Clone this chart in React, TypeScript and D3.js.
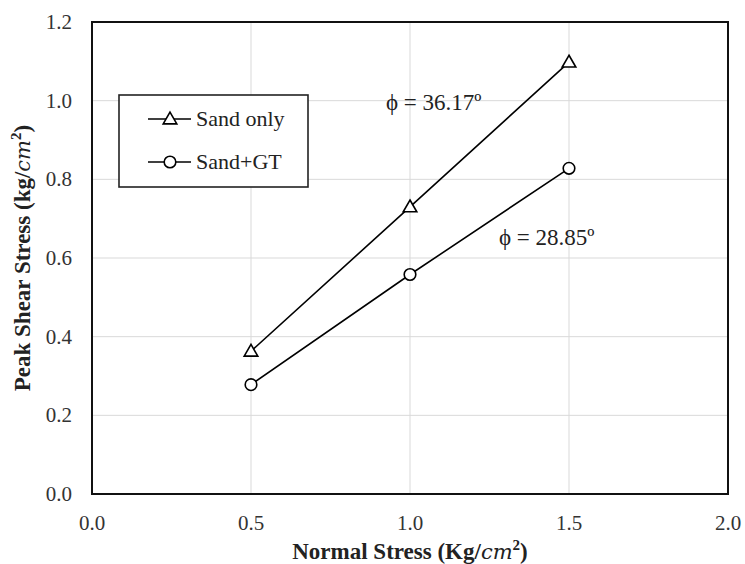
import React from 'react';
import * as d3 from 'd3';

// values
const normalStress = [0.5, 1.0, 1.5];
const sandOnly = [0.363, 0.73, 1.098];
const sandGT = [0.278, 0.558, 0.828];
const xTicks = [0, 0.5, 1.0, 1.5, 2.0];
const yTicks = [0, 0.2, 0.4, 0.6, 0.8, 1.0, 1.2];
const seriesNames = ['Sand only', 'Sand+GT'];
const phiLabels = ['\u03d5 = 36.17\u00ba', '\u03d5 = 28.85\u00ba'];

const W = 745;
const H = 564;
const margin = { left: 92, right: 17, top: 22, bottom: 70 };
const FONT = "'Liberation Serif', 'Times New Roman', serif";

export default function App() {
  const x = d3.scaleLinear().domain([0, 2]).range([margin.left, W - margin.right]);
  const y = d3.scaleLinear().domain([0, 1.2]).range([H - margin.bottom, margin.top]);

  const line = d3.line<[number, number]>()
    .x(d => x(d[0]))
    .y(d => y(d[1]));

  const sandPts = normalStress.map((v, i) => [v, sandOnly[i]] as [number, number]);
  const gtPts = normalStress.map((v, i) => [v, sandGT[i]] as [number, number]);

  const tri = d3.symbol().type(d3.symbolTriangle).size(80)();

  const triangle = (cx: number, cy: number, key: string) => (
    <path key={key} d={tri!} transform={`translate(${cx},${cy + 1})`} fill="#fff" stroke="#000" strokeWidth={1.6} />
  );
  const circle = (cx: number, cy: number, key: string) => (
    <circle key={key} cx={cx} cy={cy} r={5.8} fill="#fff" stroke="#000" strokeWidth={1.6} />
  );
  const txt = { fontFamily: FONT };
  const mathCm = { fontFamily: "'DejaVu Serif', serif", fontStyle: 'italic', fontWeight: 'normal' } as const;

  return (
    <svg width={W} height={H} style={{ position: 'absolute', left: 0, top: 0, background: '#fff', fontFamily: FONT }}>
      {/* grid */}
      {xTicks.slice(1, -1).map(t => (
        <line key={'gx' + t} x1={x(t)} x2={x(t)} y1={y(0)} y2={y(1.2)} stroke="#d9d9d9" strokeWidth={1} />
      ))}
      {yTicks.slice(1, -1).map(t => (
        <line key={'gy' + t} x1={x(0)} x2={x(2)} y1={y(t)} y2={y(t)} stroke="#d9d9d9" strokeWidth={1} />
      ))}
      <rect x={x(0)} y={y(1.2)} width={x(2) - x(0)} height={y(0) - y(1.2)} fill="none" stroke="#111" strokeWidth={2} />

      {/* tick labels */}
      {yTicks.map(t => (
        <text key={'ty' + t} x={x(0) - 20} y={y(t) + 7} textAnchor="end" fontSize={21} fill="#333" style={txt}>{t.toFixed(1)}</text>
      ))}
      {xTicks.map(t => (
        <text key={'tx' + t} x={x(t)} y={y(0) + 36} textAnchor="middle" fontSize={21} fill="#333" style={txt}>{t.toFixed(1)}</text>
      ))}

      {/* axis titles */}
      <text x={(x(0) + x(2)) / 2} y={H - 5} textAnchor="middle" fontSize={23} fontWeight="bold" fill="#222" style={txt}>
        Normal Stress (Kg/<tspan style={mathCm} fontSize={21}>cm</tspan><tspan fontSize={15} dy={-9}>2</tspan><tspan dy={9}>)</tspan>
      </text>
      <text transform={`translate(30,${(y(0) + y(1.2)) / 2}) rotate(-90)`} textAnchor="middle" fontSize={23} fontWeight="bold" fill="#222" style={txt}>
        Peak Shear Stress (kg/<tspan style={mathCm} fontSize={21}>cm</tspan><tspan fontSize={15} dy={-9}>2</tspan><tspan dy={9}>)</tspan>
      </text>

      {/* series */}
      <path d={line(sandPts)!} fill="none" stroke="#000" strokeWidth={1.6} />
      <path d={line(gtPts)!} fill="none" stroke="#000" strokeWidth={1.6} />
      {sandPts.map((p, i) => triangle(x(p[0]), y(p[1]), 's' + i))}
      {gtPts.map((p, i) => circle(x(p[0]), y(p[1]), 'g' + i))}

      {/* friction angle labels */}
      <text x={386} y={110} fontSize={23} fill="#222" style={txt}>{phiLabels[0]}</text>
      <text x={499} y={245} fontSize={23} fill="#222" style={txt}>{phiLabels[1]}</text>

      {/* legend */}
      <rect x={119} y={95} width={189} height={92} fill="#fff" stroke="#222" strokeWidth={1.6} />
      {seriesNames.map((name, i) => {
        const ly = 119 + i * 43;
        return (
          <g key={name}>
            <line x1={148} x2={191} y1={ly} y2={ly} stroke="#000" strokeWidth={1.6} />
            {i === 0 ? triangle(170, ly, 'lt') : circle(170, ly, 'lc')}
            <text x={196} y={ly + 7} fontSize={22} fill="#222" style={txt}>{name}</text>
          </g>
        );
      })}
    </svg>
  );
}
